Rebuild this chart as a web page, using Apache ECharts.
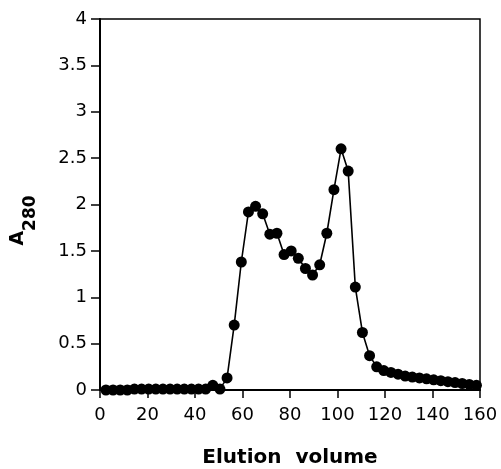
<!DOCTYPE html>
<html>
<head>
<meta charset="utf-8">
<script src="https://cdn.jsdelivr.net/npm/echarts@6/dist/echarts.min.js"></script>
<style>html,body{margin:0;padding:0;background:#fff}#c{width:501px;height:469px}</style>
</head>
<body>
<div id="c"></div>
<script>
const volumes = [2.5,5.5,8.5,11.5,14.5,17.5,20.5,23.5,26.5,29.5,32.5,35.5,38.5,41.5,44.5,47.5,50.5,53.5,56.5,59.5,62.5,65.5,68.5,71.5,74.5,77.5,80.5,83.5,86.5,89.5,92.5,95.5,98.5,101.5,104.5,107.5,110.5,113.5,116.5,119.5,122.5,125.5,128.5,131.5,134.5,137.5,140.5,143.5,146.5,149.5,152.5,155.5,158.5];
const a280 = [0.00,0.00,0.00,0.00,0.01,0.01,0.01,0.01,0.01,0.01,0.01,0.01,0.01,0.01,0.01,0.05,0.01,0.13,0.70,1.38,1.92,1.98,1.90,1.68,1.69,1.46,1.50,1.42,1.31,1.24,1.35,1.69,2.16,2.60,2.36,1.11,0.62,0.37,0.25,0.21,0.19,0.17,0.15,0.14,0.13,0.12,0.11,0.10,0.09,0.08,0.07,0.06,0.05];
const xTitle = 'Elution  volume';
const yTitleMain = 'A';
const yTitleSub = '280';

const font = 'DejaVu Sans';
const chart = echarts.init(document.getElementById('c'));
chart.setOption({
  animation: false,
  backgroundColor: '#fff',
  grid: {left: 100, top: 19, right: 21, bottom: 79, outerBoundsMode: 'none', containLabel: false,
         show: true, borderColor: '#000', borderWidth: 1.5},
  xAxis: {
    type: 'value', min: 0, max: 160, interval: 20,
    splitLine: {show: false},
    axisLine: {lineStyle: {color: '#000', width: 2}},
    axisTick: {length: 8, lineStyle: {color: '#000', width: 1.5}},
    axisLabel: {color: '#000', fontFamily: font, fontSize: 18, margin: 16},
    name: xTitle, nameLocation: 'middle', nameGap: 58,
    nameTextStyle: {color: '#000', fontFamily: font, fontSize: 20, fontWeight: 'bold'}
  },
  yAxis: {
    type: 'value', min: 0, max: 4, interval: 0.5,
    splitLine: {show: false},
    axisLine: {lineStyle: {color: '#000', width: 2}},
    axisTick: {length: 9, lineStyle: {color: '#000', width: 1.5}},
    axisLabel: {color: '#000', fontFamily: font, fontSize: 18, margin: 13},
    name: '{a|' + yTitleMain + '}{b|' + yTitleSub + '}',
    nameLocation: 'middle', nameRotate: 90, nameGap: 60,
    nameTextStyle: {
      color: '#000', fontFamily: font, fontWeight: 'bold', padding: [0, 32, 0, 0],
      rich: {
        a: {fontSize: 19, fontWeight: 'bold', fontFamily: font, color: '#000', padding: [0, 0, 12, 0]},
        b: {fontSize: 17, fontWeight: 'bold', fontFamily: font, color: '#000', padding: [12, 0, 0, 0]}
      }
    }
  },
  series: [{
    type: 'line',
    data: volumes.map((v, i) => [v, a280[i]]),
    symbol: 'circle', symbolSize: 11,
    itemStyle: {color: '#000'},
    lineStyle: {color: '#000', width: 1.6}
  }]
});
</script>
</body>
</html>
